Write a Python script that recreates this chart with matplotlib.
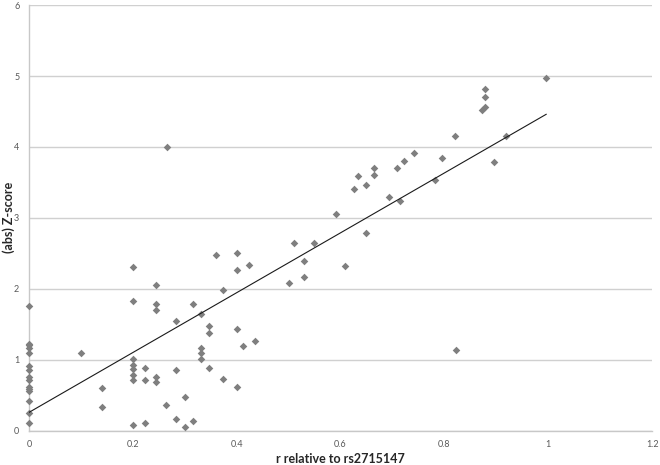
import numpy as np
import matplotlib
matplotlib.use("Agg")
import matplotlib.pyplot as plt

plt.rcParams['font.family'] = ['Lato', 'DejaVu Sans']

# r relative to rs2715147 / (abs) Z-score
r_vals = [
    0, 0, 0, 0, 0, 0, 0, 0, 0, 0, 0, 0, 0, 0, 0,
    0.10, 0.141, 0.141,
    0.20, 0.20, 0.20, 0.20, 0.20, 0.20, 0.20, 0.20,
    0.2235, 0.2235, 0.2235,
    0.245, 0.245, 0.245, 0.245, 0.245,
    0.264, 0.265,
    0.283, 0.283, 0.283,
    0.30, 0.30,
    0.316, 0.316,
    0.331, 0.331, 0.331, 0.331,
    0.346, 0.346, 0.346,
    0.361, 0.374, 0.374,
    0.40, 0.40, 0.40, 0.40,
    0.412, 0.424, 0.435,
    0.50, 0.511, 0.53, 0.53, 0.548,
    0.592, 0.608, 0.625, 0.633, 0.649, 0.649, 0.664, 0.664,
    0.693, 0.708, 0.715, 0.722, 0.742,
    0.782, 0.795, 0.82, 0.823,
    0.873, 0.879, 0.879, 0.879,
    0.895, 0.918, 0.996,
]
z_vals = [
    1.76, 1.225, 1.20, 1.17, 1.10, 0.91, 0.86, 0.75, 0.72, 0.61, 0.59, 0.56, 0.42, 0.25, 0.11,
    1.10, 0.60, 0.33,
    2.30, 1.83, 1.01, 0.92, 0.87, 0.78, 0.72, 0.08,
    0.88, 0.71, 0.11,
    2.05, 1.79, 1.70, 0.75, 0.69,
    0.36, 4.00,
    1.55, 0.86, 0.16,
    0.47, 0.045,
    1.78, 0.13,
    1.65, 1.17, 1.09, 1.01,
    1.48, 1.38, 0.88,
    2.48, 1.98, 0.73,
    2.51, 2.27, 1.43, 0.62,
    1.19, 2.33, 1.26,
    2.08, 2.64, 2.39, 2.16, 2.64,
    3.05, 2.32, 3.41, 3.59, 3.47, 2.78, 3.71, 3.60,
    3.30, 3.70, 3.24, 3.80, 3.92,
    3.53, 3.85, 4.16, 1.13,
    4.52, 4.82, 4.71, 4.57,
    3.79, 4.16, 4.97,
]

# trendline as drawn in the reference (value at x=0 and slope)
trend_intercept = 0.257
trend_slope = 4.22

x_ticks = [0, 0.2, 0.4, 0.6, 0.8, 1, 1.2]
x_tick_labels = ['0', '0.2', '0.4', '0.6', '0.8', '1', '1.2']
y_ticks = [0, 1, 2, 3, 4, 5, 6]

x = np.array(r_vals)
y = np.array(z_vals)

fig = plt.figure(figsize=(6.6, 4.65), dpi=100)
ax = fig.add_axes([0.044, 0.074, 0.944, 0.915])

# markers sit on top of the axis line at r = 0, so no clipping
ax.scatter(x, y, marker='D', s=15, color='#7f7f7f', linewidths=0,
           zorder=3, clip_on=False)

xl = np.array([x.min(), x.max()])
ax.plot(xl, trend_slope * xl + trend_intercept, color='#1a1a1a',
        linewidth=0.8, zorder=4)

ax.set_xlim(0, 1.2)
ax.set_ylim(0, 6)
ax.set_xticks(x_ticks)
ax.set_xticklabels(x_tick_labels)
ax.set_yticks(y_ticks)
ax.tick_params(axis='both', length=0, labelsize=6.5, labelcolor='#595959')
ax.tick_params(axis='x', pad=7)
ax.tick_params(axis='y', pad=7)

ax.yaxis.grid(True, color='#d0d0d0', linewidth=1.0)
ax.set_axisbelow(True)
for side in ['top', 'right']:
    ax.spines[side].set_visible(False)
for side in ['left', 'bottom']:
    ax.spines[side].set_color('#c8c8c8')
    ax.spines[side].set_linewidth(1.0)
    ax.spines[side].set_zorder(1)

ax.set_xlabel('r relative to rs2715147', fontsize=9, fontweight='bold',
              color='#262626', va='center')
ax.set_ylabel('(abs) Z-score', fontsize=9, fontweight='bold',
              color='#262626', va='center')
ax.xaxis.set_label_coords(0.5, -0.067)
ax.yaxis.set_label_coords(-0.032, 0.5)

fig.savefig('out.png', dpi=100)
